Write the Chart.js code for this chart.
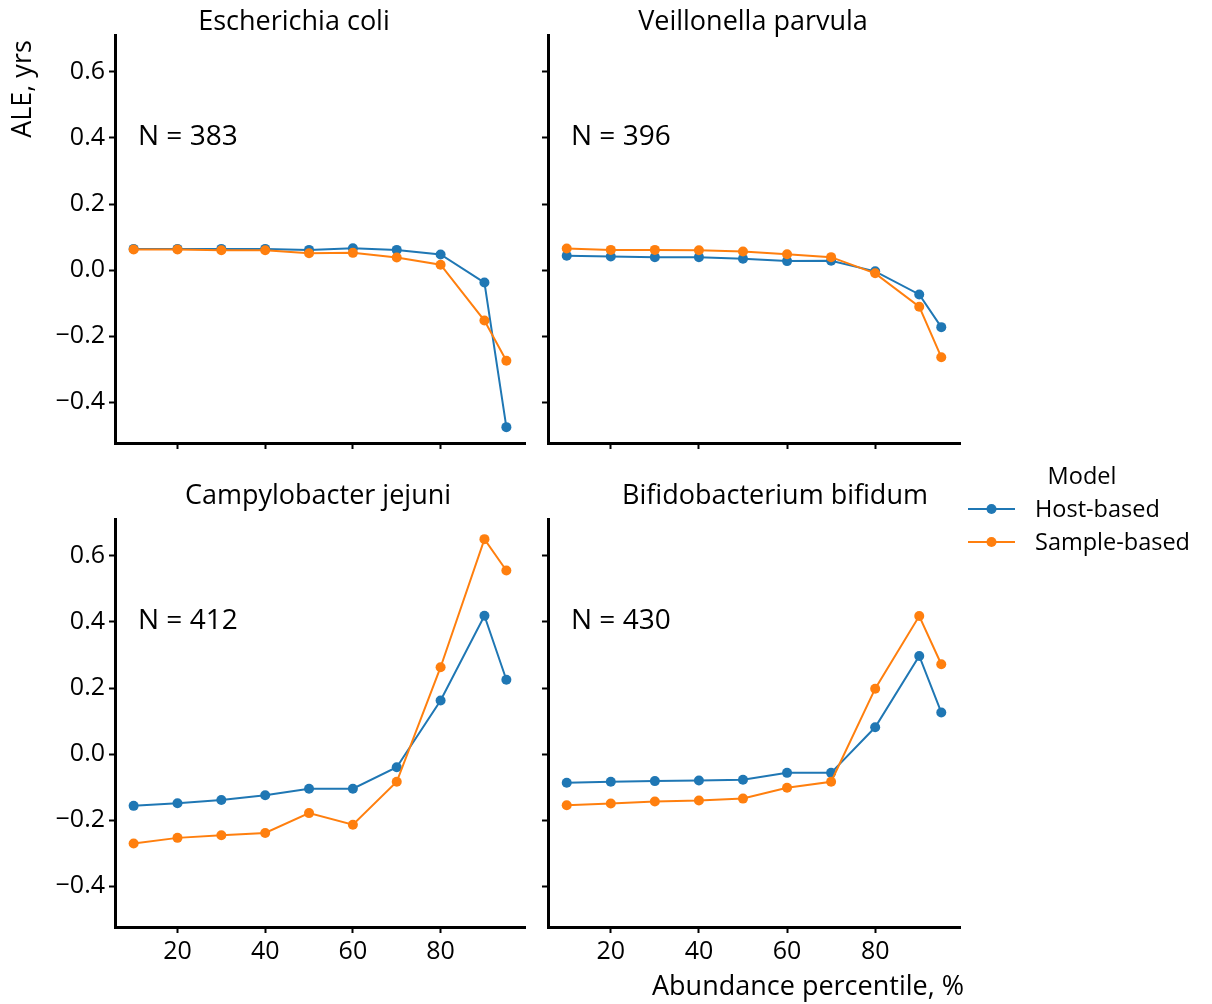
<!DOCTYPE html>
<html>
<head>
<meta charset="utf-8">
<script src="https://cdn.jsdelivr.net/npm/chart.js@4.4.1/dist/chart.umd.min.js"></script>
<style>
  body { margin: 0; background: #fff; width: 1212px; height: 1004px; position: relative; overflow: hidden; }
  canvas { position: absolute; }
</style>
</head>
<body>
<canvas id="c0"></canvas>
<canvas id="c1"></canvas>
<canvas id="c2"></canvas>
<canvas id="c3"></canvas>
<script>
// ---- data ----
const percentiles = [10, 20, 30, 40, 50, 60, 70, 80, 90, 95];
const xTicks = [20, 40, 60, 80];
const yTicks = [-0.4, -0.2, 0, 0.2, 0.4, 0.6];
const speciesNames = ['Escherichia coli', 'Veillonella parvula', 'Campylobacter jejuni', 'Bifidobacterium bifidum'];
const sampleSizes = [383, 396, 412, 430];
const modelNames = ['Host-based', 'Sample-based'];
const modelColors = ['#1f77b4', '#ff7f0e'];
const legendTitle = 'Model';
const xAxisLabel = 'Abundance percentile, %';
const yAxisLabel = 'ALE, yrs';

const hostEcoli = [0.064, 0.064, 0.064, 0.064, 0.061, 0.066, 0.061, 0.047, -0.038, -0.476];
const sampleEcoli = [0.062, 0.062, 0.060, 0.060, 0.051, 0.052, 0.038, 0.016, -0.153, -0.275];
const hostVeillonella = [0.043, 0.041, 0.039, 0.039, 0.034, 0.027, 0.028, -0.004, -0.074, -0.173];
const sampleVeillonella = [0.065, 0.061, 0.061, 0.060, 0.056, 0.048, 0.039, -0.010, -0.111, -0.264];
const hostCampylobacter = [-0.157, -0.149, -0.139, -0.125, -0.105, -0.105, -0.040, 0.162, 0.419, 0.225];
const sampleCampylobacter = [-0.271, -0.254, -0.246, -0.239, -0.179, -0.214, -0.084, 0.263, 0.651, 0.556];
const hostBifido = [-0.087, -0.084, -0.082, -0.080, -0.078, -0.057, -0.057, 0.081, 0.297, 0.126];
const sampleBifido = [-0.155, -0.150, -0.144, -0.141, -0.135, -0.102, -0.084, 0.198, 0.418, 0.272];

// shared axis limits
const xMin = 5.75, xMax = 99.25;
const yMin = -0.524, yMax = 0.712;

const FONT = "'Open Sans', 'Noto Sans', sans-serif";
Chart.defaults.font.family = FONT;
Chart.defaults.color = '#000';

// panel layout: canvas box and wanted chart area (page pixels)
const panels = [
  { name: speciesNames[0], n: sampleSizes[0], host: hostEcoli, sample: sampleEcoli,
    box: { x: 0, y: 0, w: 540, h: 470 }, area: { l: 115, t: 35, r: 525, b: 443 },
    titleX: 294, titleY: 30, xLabels: false, yLabels: true },
  { name: speciesNames[1], n: sampleSizes[1], host: hostVeillonella, sample: sampleVeillonella,
    box: { x: 530, y: 0, w: 450, h: 470 }, area: { l: 548, t: 35, r: 960, b: 443 },
    titleX: 753, titleY: 30, xLabels: false, yLabels: false },
  { name: speciesNames[2], n: sampleSizes[2], host: hostCampylobacter, sample: sampleCampylobacter,
    box: { x: 0, y: 455, w: 540, h: 549 }, area: { l: 115, t: 519, r: 525, b: 927 },
    titleX: 318, titleY: 504, xLabels: true, yLabels: true },
  { name: speciesNames[3], n: sampleSizes[3], host: hostBifido, sample: sampleBifido,
    box: { x: 530, y: 455, w: 682, h: 549 }, area: { l: 548, t: 519, r: 960, b: 927 },
    titleX: 775, titleY: 504, xLabels: true, yLabels: false }
];

function fmtY(v) {
  const s = Math.abs(v).toFixed(1);
  return v < -1e-9 ? '\u2212' + s : s;
}

// draws titles, N labels, figure labels and the legend
const textPlugin = {
  id: 'panelText',
  afterDraw(chart, args, opts) {
    const ctx = chart.ctx;
    const ox = opts.ox, oy = opts.oy;
    const a = chart.chartArea;
    ctx.save();
    ctx.fillStyle = '#000';
    ctx.textBaseline = 'alphabetic';

    ctx.font = '27px ' + FONT;
    ctx.textAlign = 'center';
    ctx.fillText(opts.title, opts.titleX - ox, opts.titleY - oy);

    ctx.font = '28px ' + FONT;
    ctx.textAlign = 'left';
    ctx.fillText('N = ' + opts.n, a.left + 23, a.top + 110);

    if (opts.yLabel) {
      ctx.save();
      ctx.font = '27px ' + FONT;
      ctx.translate(31 - ox, 89 - oy);
      ctx.rotate(-Math.PI / 2);
      ctx.textAlign = 'center';
      ctx.fillText(yAxisLabel, 0, 0);
      ctx.restore();
    }

    if (opts.xLabel) {
      ctx.font = '27px ' + FONT;
      ctx.textAlign = 'center';
      ctx.fillText(xAxisLabel, 808 - ox, 995 - oy);
    }

    if (opts.legend) {
      ctx.font = '23.5px ' + FONT;
      ctx.textAlign = 'center';
      ctx.fillText(legendTitle, 1082 - ox, 484 - oy);
      ctx.textAlign = 'left';
      // legend rows follow the hue order of the series
      const rows = chart.data.datasets.slice().sort((p, q) => p.hueIndex - q.hueIndex);
      rows.forEach((ds, i) => {
        const y = 509 + i * 33 - oy;
        ctx.strokeStyle = ds.borderColor;
        ctx.lineWidth = 2;
        ctx.beginPath();
        ctx.moveTo(968 - ox, y);
        ctx.lineTo(1015 - ox, y);
        ctx.stroke();
        ctx.fillStyle = ds.borderColor;
        ctx.beginPath();
        ctx.arc(991.5 - ox, y, 5, 0, Math.PI * 2);
        ctx.fill();
        ctx.fillStyle = '#000';
        ctx.fillText(ds.label, 1035 - ox, y + 8);
      });
    }
    ctx.restore();
  }
};

panels.forEach((p, idx) => {
  const cv = document.getElementById('c' + idx);
  cv.width = p.box.w;
  cv.height = p.box.h;
  cv.style.left = p.box.x + 'px';
  cv.style.top = p.box.y + 'px';

  const series = [p.host, p.sample];
  const datasets = series.map((vals, k) => ({
    label: modelNames[k],
    hueIndex: k,
    order: k === 0 ? 1 : 0, // sample-based drawn on top
    data: percentiles.map((x, j) => ({ x: x, y: vals[j] })),
    borderColor: modelColors[k],
    backgroundColor: modelColors[k],
    pointBackgroundColor: modelColors[k],
    borderWidth: 2,
    pointRadius: 5,
    pointBorderWidth: 0,
    tension: 0,
    clip: false
  }));

  const xAxisH = p.box.y + p.box.h - p.area.b;
  const yAxisW = p.area.l - p.box.x;

  new Chart(cv, {
    type: 'line',
    data: { datasets: datasets },
    plugins: [textPlugin],
    options: {
      responsive: false,
      animation: false,
      events: [],
      layout: {
        padding: { left: 0, top: p.area.t - p.box.y, right: p.box.x + p.box.w - p.area.r, bottom: 0 }
      },
      plugins: {
        legend: { display: false },
        tooltip: { enabled: false },
        panelText: {
          ox: p.box.x, oy: p.box.y,
          title: p.name, titleX: p.titleX, titleY: p.titleY, n: p.n,
          yLabel: idx === 0, xLabel: idx === 3, legend: idx === 3
        }
      },
      scales: {
        x: {
          type: 'linear', min: xMin, max: xMax,
          afterBuildTicks: s => { s.ticks = xTicks.map(v => ({ value: v })); },
          afterFit: s => { s.height = xAxisH; },
          border: { display: true, color: '#000', width: 3 },
          grid: { display: true, drawOnChartArea: false, drawTicks: true, tickLength: 6, tickWidth: 2, tickColor: '#000' },
          ticks: {
            autoSkip: false, maxRotation: 0, padding: 4,
            font: { size: 25 }, color: '#000',
            callback: v => p.xLabels ? String(v) : ''
          }
        },
        y: {
          type: 'linear', min: yMin, max: yMax,
          afterBuildTicks: s => { s.ticks = yTicks.map(v => ({ value: v })); },
          afterFit: s => { s.width = yAxisW; },
          border: { display: true, color: '#000', width: 3 },
          grid: { display: true, drawOnChartArea: false, drawTicks: true, tickLength: 6, tickWidth: 2, tickColor: '#000' },
          ticks: {
            autoSkip: false, padding: 4,
            font: { size: 25 }, color: '#000',
            callback: v => p.yLabels ? fmtY(v) : ''
          }
        }
      }
    }
  });
});
</script>
</body>
</html>
